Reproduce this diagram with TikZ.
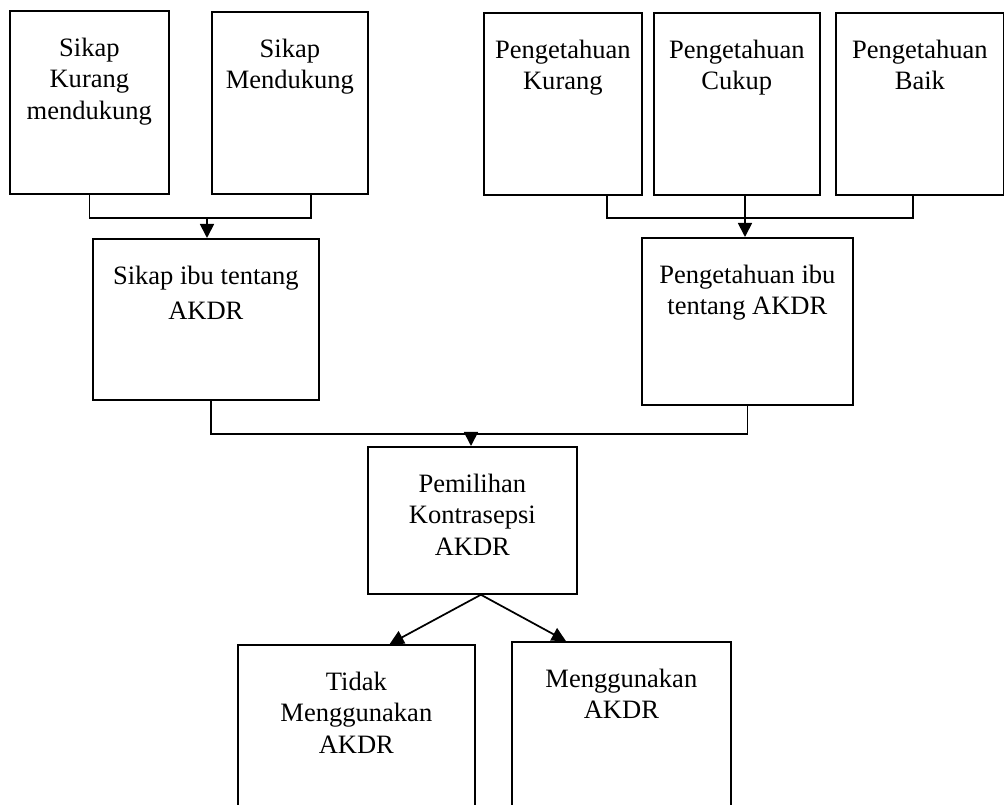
\documentclass[tikz,border=0pt]{standalone}
\usepackage{fontspec}
\setmainfont{Liberation Serif}
\usetikzlibrary{arrows.meta,positioning}

\newdimen\pxu \pxu=0.75pt
\newcommand{\boxtxt}[3]{\parbox[c][#2\pxu][t]{#1\pxu}{\centering\vspace*{17.3pt}\strut #3}}

\tikzset{
  box/.style={draw, line width=1.3pt, inner sep=0pt, anchor=north west,
    font=\fontsize{19.9}{23.8}\selectfont},
  link/.style={line width=1.3pt},
  arr/.style={line width=1.3pt, -{Triangle[length=10.5pt,width=10.5pt]}}
}

\begin{document}
\begin{tikzpicture}[x=0.75pt, y=-0.75pt]

    \clip (0,0) rectangle (1004,805);

    % TOP BOXES
    \node[box] (skurang)    at (9,10)   {\boxtxt{159}{183}{Sikap\\Kurang\\mendukung}};
    \node[box] (smendukung) at (211,11) {\boxtxt{156}{182}{Sikap\\Mendukung}};
    \node[box] (pkurang)    at (483,12) {\boxtxt{158}{182}{Pengetahuan\\Kurang}};
    \node[box] (pcukup)     at (653,12) {\boxtxt{166}{182}{Pengetahuan\\Cukup}};
    \node[box] (pbaik)      at (835,12) {\boxtxt{168}{182}{Pengetahuan\\Baik}};

    % MIDDLE BOXES
    \node[box] (sikapibu)  at (92,238)  {\boxtxt{226}{161}{Sikap ibu tentang\\[2.8pt]AKDR}};
    \node[box] (pengibu)   at (641,237) {\boxtxt{211}{167}{Pengetahuan ibu\\tentang AKDR}};
    \node[box] (pemilihan) at (367,446) {\boxtxt{209}{147}{Pemilihan\\Kontrasepsi\\AKDR}};

    % BOTTOM BOXES
    \node[box] (tidakakdr) at (237,644) {\boxtxt{237}{200}{Tidak\\Menggunakan\\AKDR}};
    \node[box] (pakaiakdr) at (511,641) {\boxtxt{219}{200}{Menggunakan\\AKDR}};

    % JOINS
    \coordinate (sjoin) at (207,218);
    \coordinate (pjoin) at (745,218);
    \coordinate (mjoin) at (471,434);

    % SIKAP BRACKET
    \draw[link] (skurang.south) |- (sjoin) -| ([xshift=15.75pt]smendukung.south);
    \draw[arr] (sjoin) -- (sjoin |- sikapibu.north);

    % PENGETAHUAN BRACKET
    \draw[link] ([xshift=33pt]pkurang.south) |- (pjoin) -| ([xshift=-5.25pt]pbaik.south);
    \draw[link] (pcukup.south -| pjoin) -- (pjoin);
    \draw[arr] (pjoin) -- (pjoin |- pengibu.north);

    % MIDDLE BRACKET
    \draw[link] ([xshift=4.1pt]sikapibu.south) |- (mjoin) -| (pengibu.south);
    \draw[arr] (mjoin) -- (mjoin |- pemilihan.north);

    % CHOICE ARROWS
    \draw[arr] ([xshift=6.4pt]pemilihan.south) -- ([xshift=25pt]tidakakdr.north);
    \draw[arr] ([xshift=6.4pt]pemilihan.south) -- ([xshift=-41.6pt]pakaiakdr.north);

\end{tikzpicture}
\end{document}
